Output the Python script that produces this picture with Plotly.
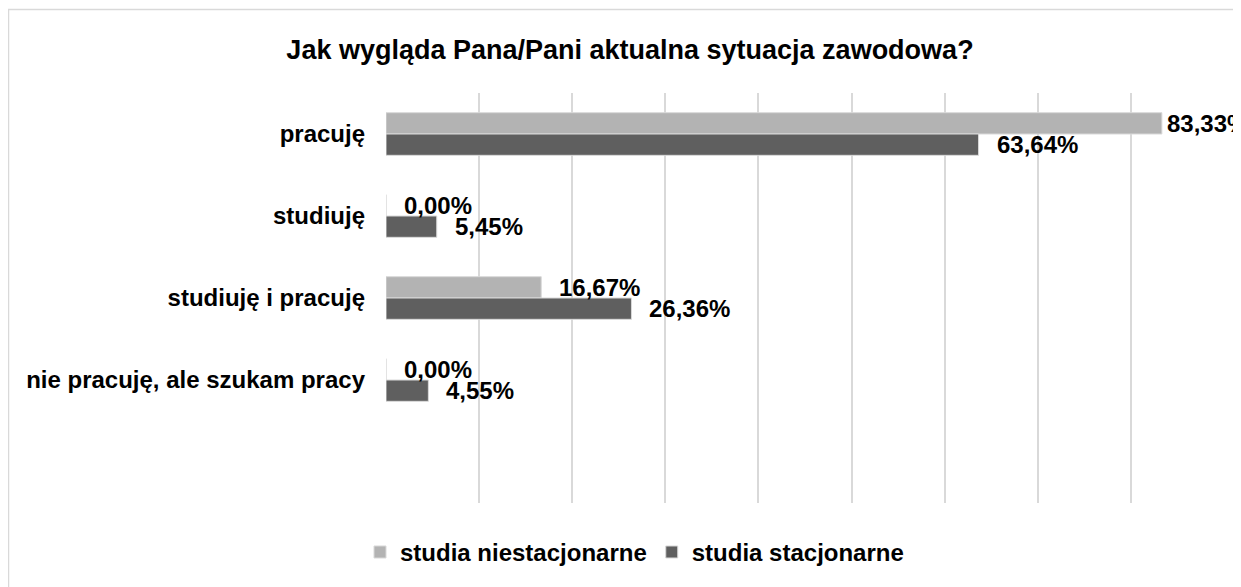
import plotly.graph_objects as go

categories = ["pracuję", "studiuję", "studiuję i pracuję", "nie pracuję, ale szukam pracy", " "]
niestacjonarne = [83.33, 0.00, 16.67, 0.00, None]
stacjonarne = [63.64, 5.45, 26.36, 4.55, None]
series_names = ["studia niestacjonarne", "studia stacjonarne"]
title_text = "Jak wygląda Pana/Pani aktualna sytuacja zawodowa?"

OFF = 8  # page body margin
W, H = 1241 - OFF, 587 - OFF
ML, MR, MT, MB = 386 - OFF, 17, 93 - OFF, 79
BARGAP = 0.48
FONT = "Liberation Sans, Arial, sans-serif"

fig = go.Figure()
colors = ["#b3b3b3", "#5f5f5f"]
for name, vals, col in zip(series_names, [niestacjonarne, stacjonarne], colors):
    fig.add_trace(go.Bar(
        y=categories, x=vals, name=name, orientation="h",
        marker=dict(color=col, line=dict(color="#d9d9d9", width=1)),
        hoverinfo="skip",
    ))

plot_h = H - MT - MB
band = plot_h / len(categories)
bw = band * (1 - BARGAP) / 2
annotations = []
for i, vals in enumerate([niestacjonarne, stacjonarne]):
    ysh = bw / 2 if i == 0 else -bw / 2
    for cat, v in zip(categories, vals):
        if v is None:
            continue
        txt = f"{v:.2f}%".replace(".", ",")
        annotations.append(dict(
            x=v, y=cat, xref="x", yref="y", text=f"<b>{txt}</b>",
            showarrow=False, xanchor="left", yanchor="middle",
            xshift=3 if v >= 80 else 16, yshift=ysh,
            font=dict(family=FONT, size=24, color="#000000"),
        ))

plot_w = W - ML - MR
fx0 = (8.5 - OFF - ML) / plot_w
fy1 = 1 + (MT - (8.5 - OFF)) / plot_h

fig.update_layout(
    width=W, height=H,
    margin=dict(l=ML, r=MR, t=MT, b=MB, pad=0),
    paper_bgcolor="white", plot_bgcolor="white",
    barmode="group", bargap=BARGAP, bargroupgap=0,
    title=dict(text=f"<b>{title_text}</b>", x=(630 - OFF) / W, xref="container", xanchor="center",
               y=1 - (50 - OFF) / H, yref="container", yanchor="middle",
               font=dict(family=FONT, size=27, color="#000000")),
    xaxis=dict(range=[0, 90], dtick=10, showgrid=True, gridcolor="#d9d9d9", gridwidth=1.5,
               showticklabels=False, zeroline=False, showline=False, ticks="", fixedrange=True),
    yaxis=dict(autorange="reversed", showgrid=False, showline=False, zeroline=False, ticks="",
               ticklabelstandoff=20,
               tickfont=dict(family=FONT, size=24, color="#000000", weight="bold")),
    legend=dict(orientation="h", x=(634.5 - 386) / plot_w, xanchor="center",
                y=(587 - 79 - 558) / plot_h, yanchor="middle",
                font=dict(family=FONT, size=24, color="#000000", weight="bold"),
                bgcolor="rgba(0,0,0,0)"),
    annotations=annotations,
    shapes=[dict(type="rect", xref="paper", yref="paper", x0=fx0, x1=1.5, y0=-0.6, y1=fy1,
                 line=dict(color="#d9d9d9", width=1.5), fillcolor="rgba(0,0,0,0)", layer="below")],
    showlegend=True,
)

fig.write_html("out.html")
